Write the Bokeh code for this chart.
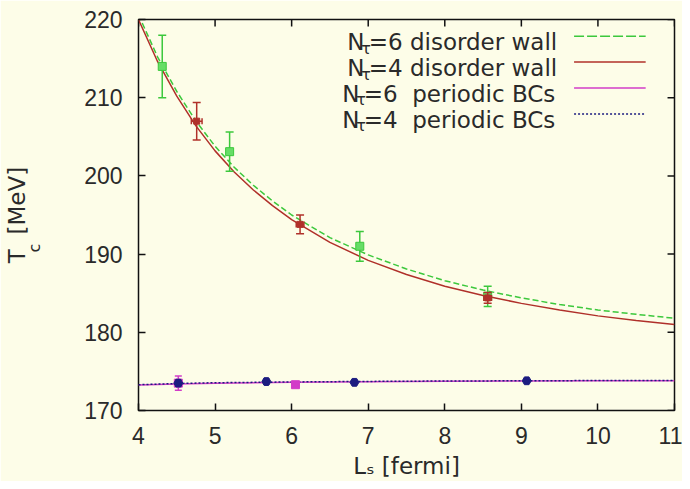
from math import pi
from bokeh.plotting import figure
from bokeh.models import LinearAxis, Label, FixedTicker, Range1d
from bokeh.embed import file_html
from bokeh.resources import INLINE

# ---------------- data ----------------
x_ticks = [4, 5, 6, 7, 8, 9, 10, 11]
y_ticks = [170, 180, 190, 200, 210, 220]

# N_tau = 6, disorder wall (green)
dw6_x = [4.31, 5.19, 6.89, 8.56]
dw6_y = [214.0, 203.1, 191.0, 184.6]
dw6_err = [4.0, 2.5, 1.9, 1.3]

# N_tau = 4, disorder wall (red)
dw4_x = [4.76, 6.11, 8.56]
dw4_y = [207.0, 193.8, 184.4]
dw4_err = [2.4, 1.2, 0.7]
dw4_xerr = [0.07, 0.05, 0.05]

# N_tau = 6, periodic BCs (magenta)
pb6_x = [4.52, 6.05]
pb6_y = [173.5, 173.3]
pb6_err = [0.9, 0.2]

# N_tau = 4, periodic BCs (navy)
pb4_x = [4.52, 5.67, 6.82, 9.07]
pb4_y = [173.5, 173.7, 173.6, 173.8]
pb4_err = [0.4, 0.3, 0.2, 0.2]

# fit curves
fit_x = [4.0, 4.25, 4.5, 4.75, 5.0, 5.25, 5.5, 5.75, 6.0, 6.5, 7.0, 7.5,
         8.0, 8.5, 9.0, 9.5, 10.0, 10.5, 11.0]
fit_dw4 = [220.0, 214.6, 210.2, 206.4, 203.2, 200.5, 198.2, 196.2, 194.4,
           191.5, 189.2, 187.4, 185.9, 184.7, 183.7, 182.85, 182.1, 181.5, 181.0]
fit_dw6 = [220.6, 215.2, 210.8, 207.0, 203.8, 201.1, 198.8, 196.8, 195.0,
           192.1, 189.9, 188.1, 186.6, 185.4, 184.4, 183.55, 182.85, 182.3, 181.8]

per_x = [4.0, 4.5, 5.0, 6.0, 7.0, 8.0, 9.0, 10.0, 11.0]
fit_pb4 = [173.3, 173.45, 173.55, 173.65, 173.72, 173.77, 173.8, 173.83, 173.85]
fit_pb6 = [173.25, 173.4, 173.5, 173.6, 173.68, 173.73, 173.77, 173.8, 173.82]

legend_labels = ["=6 disorder wall", "=4 disorder wall",
                 "=6\u00a0 periodic BCs", "=4\u00a0 periodic BCs"]
x_title = "L\u209b [fermi]"
y_title_main = "T\u00a0\u00a0[MeV]"
y_title_sub = "c"

# ---------------- styling ----------------
BG = "#fdfde8"
TXT = "#2a2a2a"
GREEN = "#3cc83c"
GREEN_PT = "#66dd66"
RED = "#b0302a"
MAGENTA = "#d23cc8"
NAVY = "#1c1c80"
FONT = "DejaVu Sans"

XMIN, XMAX, YMIN, YMAX = 4, 11, 170, 220
FRAME_L, FRAME_T, FRAME_W, FRAME_H = 135.0, 19.0, 539.0, 392.0


def dx(px):
    return XMIN + (px - FRAME_L) * (XMAX - XMIN) / FRAME_W


def dy(py):
    return YMAX - (py - FRAME_T) * (YMAX - YMIN) / FRAME_H


p = figure(width=682, height=481, x_range=Range1d(XMIN, XMAX),
           y_range=Range1d(YMIN, YMAX), output_backend="svg",
           toolbar_location=None,
           min_border_left=135, min_border_right=8, min_border_top=19,
           min_border_bottom=70,
           background_fill_color=BG, border_fill_color=BG,
           outline_line_color="#111111", outline_line_width=1.5)
p.grid.visible = False

for ax in (p.xaxis[0], p.yaxis[0]):
    ax.axis_line_color = None
    ax.major_tick_in = 7
    ax.major_tick_out = 0
    ax.major_tick_line_color = "#111111"
    ax.major_tick_line_width = 1.5
    ax.minor_tick_line_color = None
    ax.major_label_text_font = "Liberation Sans"
    ax.major_label_text_font_size = "23px"
    ax.major_label_text_color = TXT
    ax.axis_label_text_font = FONT
    ax.axis_label_text_font_size = "23px"
    ax.axis_label_text_font_style = "normal"
    ax.axis_label_text_color = TXT
p.xaxis[0].ticker = FixedTicker(ticks=x_ticks)
p.yaxis[0].ticker = FixedTicker(ticks=y_ticks)
p.xaxis[0].major_label_standoff = 16
p.yaxis[0].major_label_standoff = 16
p.xaxis[0].axis_label = x_title
p.xaxis[0].axis_label_standoff = 6

# y title built from two tick-less axes: subscript "c" and "T  [MeV]"
ax_sub = LinearAxis(ticker=FixedTicker(ticks=[]), axis_line_color=None,
                    major_tick_line_color=None, minor_tick_line_color=None,
                    axis_label=y_title_sub + "\u00a0" * 13,
                    axis_label_text_font=FONT, axis_label_text_font_size="16px",
                    axis_label_text_font_style="normal",
                    axis_label_text_color=TXT, axis_label_standoff=38)
p.add_layout(ax_sub, "left")
ax_main = LinearAxis(ticker=FixedTicker(ticks=[]), axis_line_color=None,
                     major_tick_line_color=None, minor_tick_line_color=None,
                     axis_label=y_title_main,
                     axis_label_text_font=FONT, axis_label_text_font_size="23px",
                     axis_label_text_font_style="normal",
                     axis_label_text_color=TXT, axis_label_standoff=-8)
p.add_layout(ax_main, "left")

# mirrored ticks on top and right (drawn from the tick lists)
tick_dy = 7 * (YMAX - YMIN) / FRAME_H
tick_dx = 7 * (XMAX - XMIN) / FRAME_W
p.segment(x0=x_ticks, y0=[YMAX] * len(x_ticks), x1=x_ticks,
          y1=[YMAX - tick_dy] * len(x_ticks), line_color="#111111", line_width=1.5)
p.segment(x0=[XMAX] * len(y_ticks), y0=y_ticks, x1=[XMAX - tick_dx] * len(y_ticks),
          y1=y_ticks, line_color="#111111", line_width=1.5)

# ---------------- fit curves ----------------
p.line(per_x, fit_pb6, line_color=MAGENTA, line_width=1.5)
p.line(per_x, fit_pb4, line_color=NAVY, line_width=1.5, line_dash="2 2")
p.line(fit_x, fit_dw6, line_color=GREEN, line_width=1.5, line_dash="6 3")
p.line(fit_x, fit_dw4, line_color=RED, line_width=1.5)


# ---------------- points with error bars ----------------
def errorbars(xs, ys, errs, color, cap=8, width=1.5):
    lo = [y - e for y, e in zip(ys, errs)]
    hi = [y + e for y, e in zip(ys, errs)]
    p.segment(x0=xs, y0=lo, x1=xs, y1=hi, line_color=color, line_width=width)
    p.scatter(xs, lo, marker="dash", size=cap, line_color=color, line_width=width)
    p.scatter(xs, hi, marker="dash", size=cap, line_color=color, line_width=width)


def xerrorbars(xs, ys, errs, color, cap=6, width=1.5):
    lo = [x - e for x, e in zip(xs, errs)]
    hi = [x + e for x, e in zip(xs, errs)]
    p.segment(x0=lo, y0=ys, x1=hi, y1=ys, line_color=color, line_width=width)
    p.scatter(lo, ys, marker="dash", angle=pi / 2, size=cap, line_color=color, line_width=width)
    p.scatter(hi, ys, marker="dash", angle=pi / 2, size=cap, line_color=color, line_width=width)


errorbars(dw6_x, dw6_y, dw6_err, GREEN)
p.scatter(dw6_x, dw6_y, marker="square", size=8, fill_color=GREEN_PT,
          line_color=GREEN)

errorbars(dw4_x, dw4_y, dw4_err, RED)
xerrorbars(dw4_x, dw4_y, dw4_xerr, RED)
p.scatter(dw4_x, dw4_y, marker="square", size=6, fill_color=RED, line_color=RED)

errorbars(pb6_x, pb6_y, pb6_err, MAGENTA, cap=7)
p.scatter(pb6_x, pb6_y, marker="square", size=8, fill_color=MAGENTA,
          line_color=MAGENTA)

errorbars(pb4_x, pb4_y, pb4_err, NAVY, cap=6)
p.scatter(pb4_x, pb4_y, marker="hex", size=9, fill_color=NAVY, line_color=NAVY)

# ---------------- legend (manual, with subscript tau) ----------------
leg_left = [345.0, 345.0, 340.0, 340.0]
leg_base = [41.7, 67.7, 93.7, 119.7]
leg_colors = [GREEN, RED, MAGENTA, NAVY]
leg_dash = ["10 3", "solid", "solid", "2 2"]
for lab, lx, by, col, dsh in zip(legend_labels, leg_left, leg_base,
                                 leg_colors, leg_dash):
    p.add_layout(Label(x=dx(lx), y=dy(by), text="N", text_font=FONT,
                       text_font_size="23px", text_color=TXT,
                       text_baseline="alphabetic", text_align="left"))
    p.add_layout(Label(x=dx(lx + 14), y=dy(by + 6), text="τ",
                       text_font=FONT, text_font_size="16px",
                       text_color=TXT, text_baseline="alphabetic",
                       text_align="left"))
    p.add_layout(Label(x=dx(lx + 21.5), y=dy(by), text=lab, text_font=FONT,
                       text_font_size="23px", text_color=TXT,
                       text_baseline="alphabetic", text_align="left"))
    p.line([dx(573), dx(645)], [dy(by - 6), dy(by - 6)], line_color=col,
           line_width=1.5, line_dash=dsh)

open("out.html", "w").write(file_html(p, INLINE))
